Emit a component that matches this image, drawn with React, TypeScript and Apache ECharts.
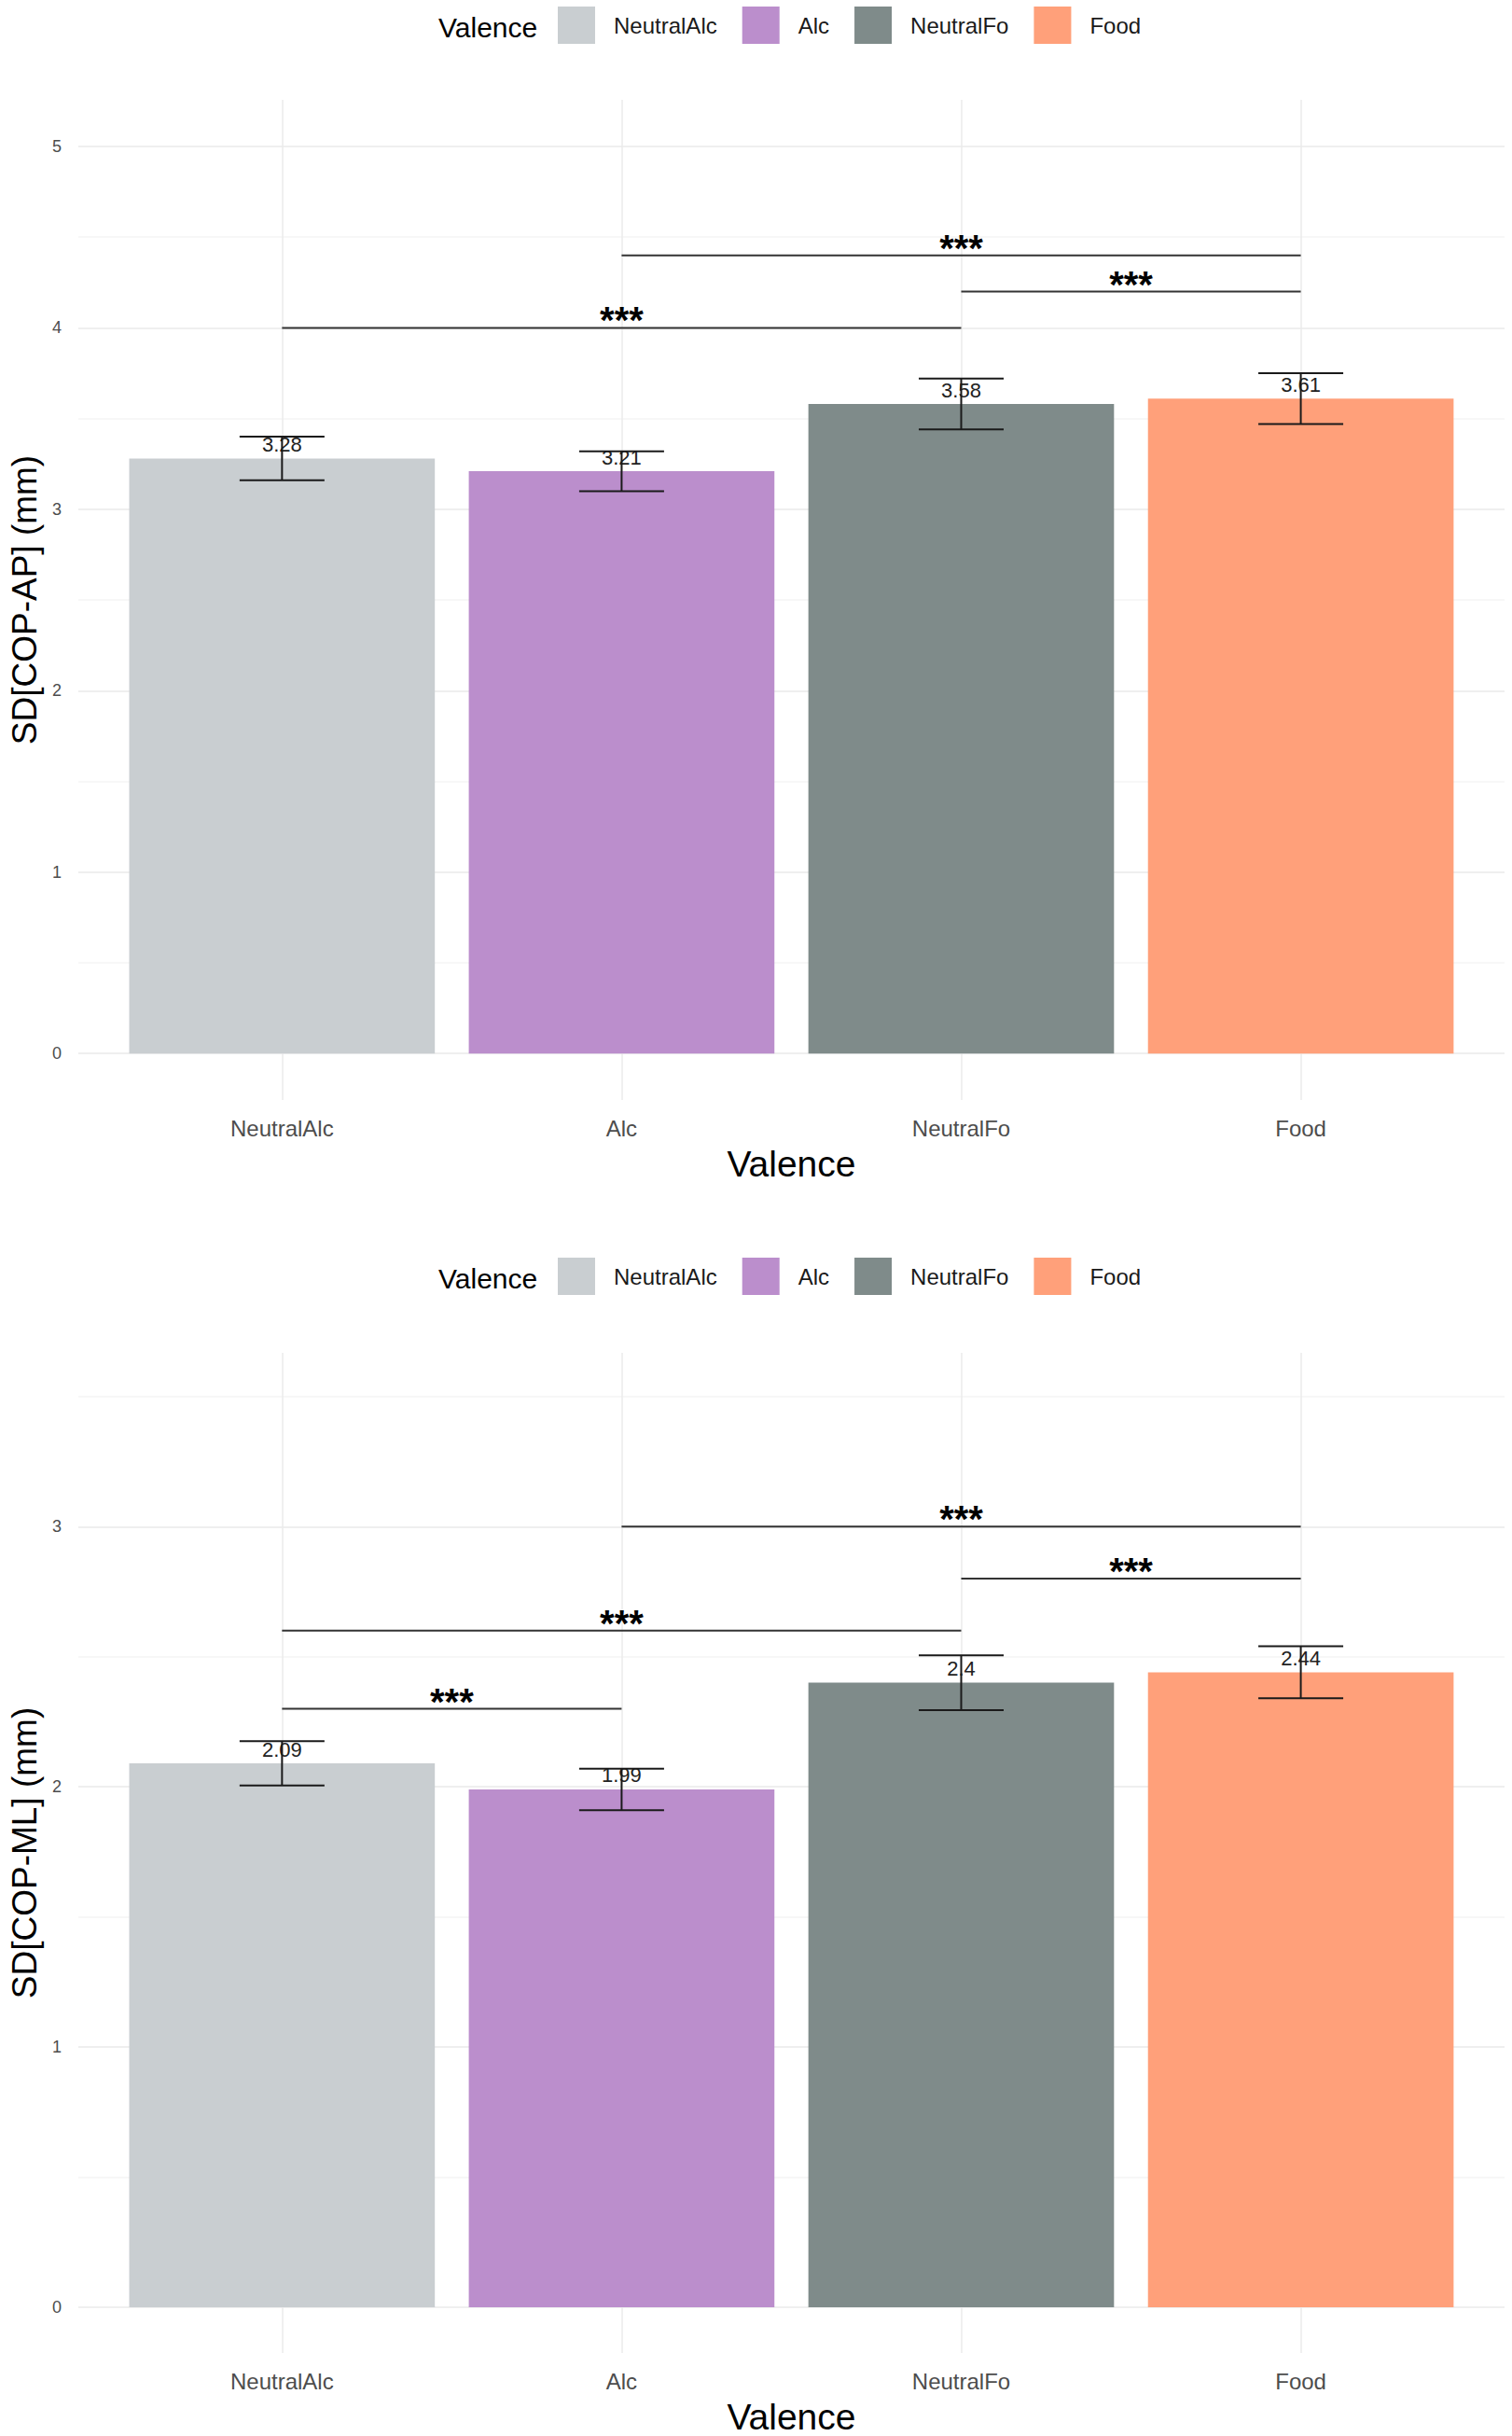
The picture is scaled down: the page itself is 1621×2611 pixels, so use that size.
import { useEffect, useRef } from "react";
import * as echarts from "echarts";

const FONT = '"Liberation Sans", Arial, sans-serif';

const CATEGORIES = ["NeutralAlc", "Alc", "NeutralFo", "Food"];
const COLORS = ["#C9CED1", "#BB8ECC", "#7F8B8A", "#FFA07A"];
const X_POS = [0, 1, 2, 3];
const SIG_TEXT = "***";

// SD[COP-AP]
const AP_MEAN = [3.28, 3.21, 3.58, 3.61];
const AP_ERR = [0.12, 0.11, 0.14, 0.14];
const AP_SIG = [
  [1, 3, 4.4],
  [2, 3, 4.2],
  [0, 2, 4.0],
];
const AP_LABELS = [0, 1, 2, 3, 4, 5];
const AP_GRID = [0, 0.5, 1, 1.5, 2, 2.5, 3, 3.5, 4, 4.5, 5];

// SD[COP-ML]
const ML_MEAN = [2.09, 1.99, 2.4, 2.44];
const ML_ERR = [0.085, 0.08, 0.105, 0.1];
const ML_SIG = [
  [1, 3, 3.0],
  [2, 3, 2.8],
  [0, 2, 2.6],
  [0, 1, 2.3],
];
const ML_LABELS = [0, 1, 2, 3];
const ML_GRID = [0, 0.5, 1, 1.5, 2, 2.5, 3, 3.5];

type Panel = {
  mean: number[];
  err: number[];
  sig: number[][];
  labels: number[];
  grid: number[];
  yName: string;
  min: number;
  max: number;
};

function buildPanel(k: number, p: Panel) {
  const xAxis = {
    type: "value",
    gridIndex: k,
    min: -0.6,
    max: 3.6,
    name: "Valence",
    nameLocation: "middle",
    nameGap: 49,
    nameTextStyle: { fontSize: 39, color: "#000", fontFamily: FONT },
    axisLine: { show: false, onZero: false },
    axisTick: { show: false, customValues: X_POS },
    axisLabel: {
      customValues: X_POS,
      formatter: (v: number) => CATEGORIES[Math.round(v)] ?? "",
      fontSize: 24,
      color: "#4d4d4d",
      margin: 18,
      fontFamily: FONT,
    },
    splitLine: { show: true, lineStyle: { color: "#ebebeb", width: 1.5 } },
  };
  const yAxis = {
    type: "value",
    gridIndex: k,
    min: p.min,
    max: p.max,
    name: p.yName,
    nameLocation: "middle",
    nameGap: 37,
    nameTextStyle: { fontSize: 37, color: "#000", fontFamily: FONT },
    axisLine: { show: false, onZero: false },
    axisTick: { show: false, customValues: p.grid },
    axisLabel: {
      customValues: p.labels,
      fontSize: 18,
      color: "#4d4d4d",
      margin: 18,
      fontFamily: FONT,
    },
    splitLine: {
      show: true,
      lineStyle: { color: ["#eaeaea", "#f4f4f4"], width: 1.5 },
    },
  };
  const bars = CATEGORIES.map((name, i) => ({
    name,
    type: "bar",
    xAxisIndex: k,
    yAxisIndex: k,
    data: [[X_POS[i], p.mean[i]]],
    barWidth: "90%",
    barGap: "-100%",
    itemStyle: { color: COLORS[i] },
    label: {
      show: true,
      position: "top",
      distance: 4,
      fontSize: 22,
      color: "#222",
      fontFamily: FONT,
      formatter: (q: any) => String(q.value[1]),
    },
    z: 2,
  }));
  const errors = {
    type: "custom",
    xAxisIndex: k,
    yAxisIndex: k,
    z: 4,
    silent: true,
    data: p.mean.map((m, i) => [X_POS[i], m, p.err[i]]),
    encode: { x: 0, y: 1 },
    renderItem: (_params: any, api: any) => {
      const x = api.value(0);
      const m = api.value(1);
      const e = api.value(2);
      const top = api.coord([x, m + e]);
      const bot = api.coord([x, m - e]);
      const half = api.size([1, 0])[0] * 0.125;
      const style = { stroke: "#1a1a1a", lineWidth: 2 };
      return {
        type: "group",
        children: [
          { type: "line", shape: { x1: top[0], y1: top[1], x2: bot[0], y2: bot[1] }, style },
          { type: "line", shape: { x1: top[0] - half, y1: top[1], x2: top[0] + half, y2: top[1] }, style },
          { type: "line", shape: { x1: bot[0] - half, y1: bot[1], x2: bot[0] + half, y2: bot[1] }, style },
        ],
      };
    },
  };
  const brackets = {
    type: "custom",
    xAxisIndex: k,
    yAxisIndex: k,
    z: 4,
    silent: true,
    dimensions: ["from", "to", "y"],
    data: p.sig,
    encode: { x: [0, 1], y: 2 },
    renderItem: (_params: any, api: any) => {
      const a = api.coord([api.value(0), api.value(2)]);
      const b = api.coord([api.value(1), api.value(2)]);
      return {
        type: "group",
        children: [
          {
            type: "line",
            shape: { x1: a[0], y1: a[1], x2: b[0], y2: b[1] },
            style: { stroke: "#333", lineWidth: 2 },
          },
          {
            type: "text",
            x: (a[0] + b[0]) / 2,
            y: a[1] - 8,
            style: {
              text: SIG_TEXT,
              fontSize: 40,
              fontWeight: "bold",
              fontFamily: FONT,
              fill: "#000",
              align: "center",
              verticalAlign: "middle",
            },
          },
        ],
      };
    },
  };
  return { xAxis, yAxis, series: [...bars, errors, brackets] };
}

function legendAt(top: number) {
  return {
    data: CATEGORIES,
    left: 598,
    top,
    padding: 0,
    icon: "rect",
    itemWidth: 40,
    itemHeight: 40,
    itemGap: 27,
    selectedMode: false,
    textStyle: {
      fontSize: 24,
      color: "#1a1a1a",
      fontFamily: FONT,
      padding: [8, 0, 0, 15],
    },
  };
}

export default function App() {
  const ref = useRef<HTMLDivElement>(null);
  useEffect(() => {
    if (!ref.current) return;
    const chart = echarts.init(ref.current, undefined, { renderer: "svg" });
    const ap = buildPanel(0, {
      mean: AP_MEAN,
      err: AP_ERR,
      sig: AP_SIG,
      labels: AP_LABELS,
      grid: AP_GRID,
      yName: "SD[COP-AP] (mm)",
      min: -0.256,
      max: 5.257,
    });
    const ml = buildPanel(1, {
      mean: ML_MEAN,
      err: ML_ERR,
      sig: ML_SIG,
      labels: ML_LABELS,
      grid: ML_GRID,
      yName: "SD[COP-ML] (mm)",
      min: -0.176,
      max: 3.668,
    });
    chart.setOption({
      animation: false,
      backgroundColor: "#fff",
      textStyle: { fontFamily: FONT },
      grid: [
        { left: 80, right: 8, top: 107, height: 1072 },
        { left: 80, right: 8, top: 1450, height: 1072 },
      ],
      legend: [legendAt(7), legendAt(1348)],
      graphic: [
        {
          type: "text",
          x: 470,
          y: 29,
          style: { text: "Valence", fontSize: 30, fill: "#000", fontFamily: FONT, verticalAlign: "middle" },
        },
        {
          type: "text",
          x: 470,
          y: 1370,
          style: { text: "Valence", fontSize: 30, fill: "#000", fontFamily: FONT, verticalAlign: "middle" },
        },
      ],
      xAxis: [ap.xAxis, ml.xAxis],
      yAxis: [ap.yAxis, ml.yAxis],
      series: [...ap.series, ...ml.series],
    });
    return () => chart.dispose();
  }, []);
  return (
    <div
      ref={ref}
      style={{ position: "absolute", left: 0, top: 0, width: 1621, height: 2611 }}
    />
  );
}
